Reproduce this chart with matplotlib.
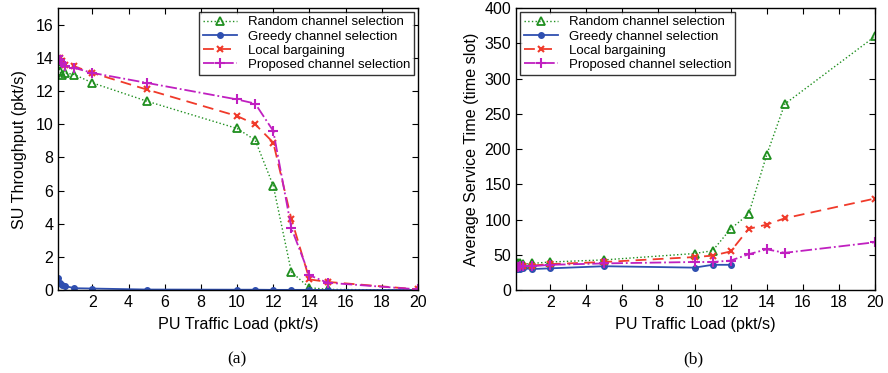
import matplotlib
matplotlib.use('Agg')
import matplotlib.pyplot as plt

plt.rcParams['font.family'] = ['Liberation Sans', 'DejaVu Sans']

# PU traffic load (pkt/s)
load = [0.1, 0.2, 0.3, 0.5, 1, 2, 5, 10, 11, 12, 13, 14, 15, 20]
load_greedy_b = [0.1, 0.2, 0.3, 0.5, 1, 2, 5, 10, 11, 12]

# (a) SU throughput (pkt/s)
thr_random = [13.8, 13.2, 13.0, 13.1, 13.0, 12.5, 11.4, 9.75, 9.05, 6.3, 1.1, 0.15, 0.05, 0.0]
thr_greedy = [0.75, 0.45, 0.3, 0.25, 0.12, 0.1, 0.04, 0.03, 0.03, 0.02, 0.02, 0.02, 0.01, 0.01]
thr_local = [14.0, 14.0, 13.8, 13.6, 13.5, 13.1, 12.1, 10.5, 10.0, 8.9, 4.3, 0.65, 0.5, 0.05]
thr_proposed = [14.1, 13.9, 13.7, 13.5, 13.4, 13.1, 12.5, 11.5, 11.25, 9.6, 3.75, 0.9, 0.45, 0.05]

# (b) average service time (time slot)
st_random = [36, 38, 38, 37, 38, 40, 43, 52, 56, 87, 108, 192, 264, 360]
st_greedy = [30, 30, 30, 31, 30, 31, 34, 32, 36, 36]
st_local = [32, 33, 34, 34, 35, 37, 40, 47, 49, 55, 87, 93, 102, 130]
st_proposed = [33, 33, 34, 34, 34, 36, 38, 40, 40, 42, 51, 58, 53, 68]

labels = ['Random channel selection', 'Greedy channel selection',
          'Local bargaining', 'Proposed channel selection']

c_green = '#1f8f1f'
c_blue = '#2f4fb0'
c_red = '#f03a2a'
c_mag = '#c020c0'

fig = plt.figure(figsize=(8.88, 3.73), dpi=100)
ax1 = fig.add_axes([0.0653, 0.222, 0.4054, 0.756])
ax2 = fig.add_axes([0.581, 0.222, 0.4043, 0.756])


def draw(ax, xg, r, g, l, p):
    ax.plot(load, r, ':', color=c_green, lw=1.0, marker='^', ms=6,
            mfc='none', mec=c_green, mew=1.3, label=labels[0])
    ax.plot(xg, g, '-', color=c_blue, lw=1.3, marker='o', ms=4,
            mfc=c_blue, mec=c_blue, label=labels[1])
    ax.plot(load, l, '--', color=c_red, lw=1.3, marker='x', ms=4.5,
            mew=1.5, dashes=(6, 3.5), label=labels[2])
    ax.plot(load, p, '-.', color=c_mag, lw=1.3, marker='+', ms=7,
            mew=1.5, label=labels[3])
    ax.set_xlim(0.1, 20)
    ax.set_xticks([2, 4, 6, 8, 10, 12, 14, 16, 18, 20])
    ax.tick_params(direction='in', top=True, right=True, labelsize=11.5,
                   length=4.5, width=0.8)
    for s in ax.spines.values():
        s.set_linewidth(1.0)
    ax.set_xlabel('PU Traffic Load (pkt/s)', fontsize=11.6, labelpad=5)


draw(ax1, load, thr_random, thr_greedy, thr_local, thr_proposed)
ax1.set_ylim(0, 17)
ax1.set_yticks(range(0, 17, 2))
ax1.set_ylabel('SU Throughput (pkt/s)', fontsize=11.6, labelpad=6)
ax1.legend(loc='upper right', fontsize=9.5, frameon=True, fancybox=False,
           edgecolor='black', borderpad=0.3, labelspacing=0.15,
           handlelength=2.6, borderaxespad=0.3).get_frame().set_linewidth(1.0)

draw(ax2, load_greedy_b, st_random, st_greedy, st_local, st_proposed)
ax2.set_ylim(0, 400)
ax2.set_yticks(range(0, 401, 50))
ax2.set_ylabel('Average Service Time (time slot)', fontsize=11.6, labelpad=4)
ax2.legend(loc='upper left', fontsize=9.5, frameon=True, fancybox=False,
           edgecolor='black', borderpad=0.3, labelspacing=0.15,
           handlelength=2.6, borderaxespad=0.3).get_frame().set_linewidth(1.0)

fig.text(0.267, 0.025, '(a)', ha='center', fontsize=12.5,
         family=['Liberation Serif', 'DejaVu Serif'])
fig.text(0.781, 0.025, '(b)', ha='center', fontsize=12.5,
         family=['Liberation Serif', 'DejaVu Serif'])

fig.savefig('out.png', dpi=100)
